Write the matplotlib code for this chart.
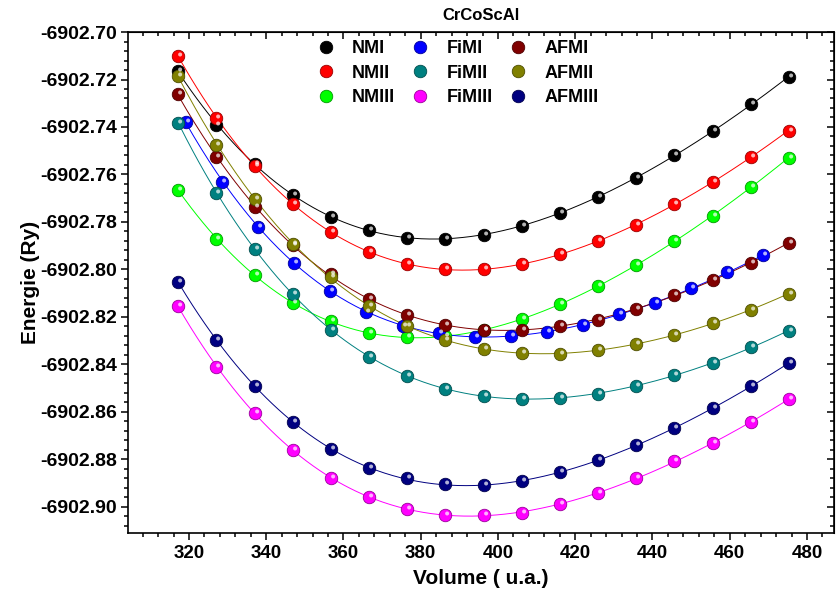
import numpy as np
import matplotlib
matplotlib.use("Agg")
import matplotlib.pyplot as plt
from matplotlib.markers import MarkerStyle
from matplotlib.transforms import Affine2D
from matplotlib.legend_handler import HandlerTuple
from matplotlib.ticker import MultipleLocator, FormatStrFormatter

plt.rcParams['font.family'] = ['Liberation Sans', 'DejaVu Sans']
plt.rcParams['font.weight'] = 'bold'
plt.rcParams['axes.unicode_minus'] = False

# --- Volumes (u.a.) ---
vol = [317.2, 327.1, 337.0, 346.9, 356.7, 366.6, 376.5, 386.4, 396.3,
       406.1, 416.0, 425.9, 435.8, 445.7, 455.6, 465.4, 475.3]
vol_fim1 = [319.2, 328.6, 337.9, 347.2, 356.6, 365.9, 375.3, 384.6, 394.0,
            403.3, 412.6, 422.0, 431.3, 440.7, 450.0, 459.4, 468.7]

# --- Energies (Ry) ---
e_nm1 = [-6902.7165, -6902.7392, -6902.7555, -6902.7687, -6902.7778, -6902.7832,
         -6902.7867, -6902.7871, -6902.7853, -6902.7818, -6902.7761, -6902.7696,
         -6902.7613, -6902.7520, -6902.7418, -6902.7305, -6902.7189]
e_nm2 = [-6902.7102, -6902.7361, -6902.7565, -6902.7726, -6902.7841, -6902.7926,
         -6902.7975, -6902.8000, -6902.8000, -6902.7979, -6902.7937, -6902.7880,
         -6902.7811, -6902.7726, -6902.7632, -6902.7526, -6902.7415]
e_nm3 = [-6902.7665, -6902.7871, -6902.8025, -6902.8142, -6902.8218, -6902.8267,
         -6902.8285, -6902.8282, -6902.8257, -6902.8208, -6902.8147, -6902.8070,
         -6902.7983, -6902.7881, -6902.7773, -6902.7653, -6902.7530]
e_fim1 = [-6902.7380, -6902.7631, -6902.7820, -6902.7972, -6902.8090, -6902.8178,
          -6902.8237, -6902.8267, -6902.8285, -6902.8281, -6902.8264, -6902.8232,
          -6902.8189, -6902.8140, -6902.8080, -6902.8011, -6902.7940]
e_fim2 = [-6902.7382, -6902.7677, -6902.7913, -6902.8105, -6902.8253, -6902.8368,
          -6902.8449, -6902.8502, -6902.8533, -6902.8544, -6902.8541, -6902.8523,
          -6902.8491, -6902.8446, -6902.8393, -6902.8328, -6902.8258]
e_fim3 = [-6902.8155, -6902.8410, -6902.8606, -6902.8762, -6902.8877, -6902.8958,
          -6902.9008, -6902.9033, -6902.9036, -6902.9024, -6902.8989, -6902.8943,
          -6902.8880, -6902.8808, -6902.8730, -6902.8643, -6902.8547]
e_afm1 = [-6902.7263, -6902.7527, -6902.7738, -6902.7899, -6902.8021, -6902.8123,
          -6902.8192, -6902.8235, -6902.8253, -6902.8257, -6902.8240, -6902.8211,
          -6902.8165, -6902.8109, -6902.8043, -6902.7972, -6902.7889]
e_afm2 = [-6902.7186, -6902.7474, -6902.7702, -6902.7891, -6902.8031, -6902.8155,
          -6902.8239, -6902.8299, -6902.8334, -6902.8351, -6902.8355, -6902.8341,
          -6902.8314, -6902.8276, -6902.8226, -6902.8170, -6902.8102]
e_afm3 = [-6902.8053, -6902.8298, -6902.8491, -6902.8643, -6902.8755, -6902.8835,
          -6902.8880, -6902.8905, -6902.8909, -6902.8893, -6902.8855, -6902.8804,
          -6902.8740, -6902.8667, -6902.8585, -6902.8491, -6902.8396]

labels = ['NMI', 'NMII', 'NMIII', 'FiMI', 'FiMII', 'FiMIII', 'AFMI', 'AFMII', 'AFMIII']
colors = ['#000000', '#ff0000', '#00ff00', '#0000ff', '#008080', '#ff00ff',
          '#800000', '#808000', '#000080']
volumes = [vol, vol, vol, vol_fim1, vol, vol, vol, vol, vol]
energies = [e_nm1, e_nm2, e_nm3, e_fim1, e_fim2, e_fim3, e_afm1, e_afm2, e_afm3]

fig = plt.figure(figsize=(8.36, 5.94), dpi=100)
ax = fig.add_axes([0.1531, 0.1027, 0.8445, 0.8434])

# reflet des billes
hl_marker = MarkerStyle('o', transform=Affine2D().scale(0.32).translate(0.13, 0.16))

handles = []
for v, e, c, lab in zip(volumes, energies, colors, labels):
    v = np.array(v)
    e = np.array(e)
    # courbe d'ajustement (polynôme) à travers les points
    v0 = v.mean()
    p = np.polyfit(v - v0, e + 6902.8, 4)
    vv = np.linspace(v.min(), v.max(), 300)
    ax.plot(vv, np.polyval(p, vv - v0) - 6902.8, color=c, lw=0.7, zorder=2)
    edge = matplotlib.colors.to_hex(np.array(matplotlib.colors.to_rgb(c)) * 0.6)
    base, = ax.plot(v, e, ls='none', marker='o', ms=9, mfc=c, mec=edge,
                    mew=0.6, zorder=3)
    hl, = ax.plot(v, e, ls='none', marker=hl_marker, ms=9, mfc='white', mec='none',
                  alpha=0.7, zorder=4)
    handles.append((base, hl))

ax.set_xlim(304.2, 487.0)
ax.set_ylim(-6902.911, -6902.70)
ax.xaxis.set_major_locator(MultipleLocator(20))
ax.xaxis.set_minor_locator(MultipleLocator(4))
ax.yaxis.set_major_locator(MultipleLocator(0.02))
ax.yaxis.set_minor_locator(MultipleLocator(0.004))
ax.yaxis.set_major_formatter(FormatStrFormatter('%.2f'))

for s in ax.spines.values():
    s.set_linewidth(1.2)
ax.tick_params(which='both', direction='out', width=1.1, top=False, right=False)
ax.tick_params(which='major', length=5)
ax.tick_params(which='minor', length=3)
ax.tick_params(axis='x', labelsize=13.5, pad=4)
ax.tick_params(axis='y', labelsize=14, pad=3)

# graduations intérieures en haut et à droite
sx = ax.secondary_xaxis('top')
sx.xaxis.set_major_locator(MultipleLocator(20))
sx.xaxis.set_minor_locator(MultipleLocator(4))
sx.tick_params(which='both', direction='in', width=1.1, labeltop=False)
sx.tick_params(which='major', length=5)
sx.tick_params(which='minor', length=3)
sy = ax.secondary_yaxis('right')
sy.yaxis.set_major_locator(MultipleLocator(0.02))
sy.yaxis.set_minor_locator(MultipleLocator(0.004))
sy.tick_params(which='both', direction='in', width=1.1, labelright=False)
sy.tick_params(which='major', length=5)
sy.tick_params(which='minor', length=3)

ax.set_xlabel('Volume ( u.a.)', fontsize=15, fontweight='bold', labelpad=5)
ax.set_ylabel('Energie (Ry)', fontsize=15, fontweight='bold', labelpad=0)
ax.set_title('CrCoScAl', fontsize=12, fontweight='bold', pad=9)

ax.legend(handles, labels, handler_map={tuple: HandlerTuple(ndivide=None)},
          ncol=3, frameon=False, loc='upper left',
          bbox_to_anchor=(321 / 836, 1 - 40 / 594), bbox_transform=fig.transFigure,
          borderpad=0, borderaxespad=0, handlelength=1.0, handletextpad=0.72,
          columnspacing=1.15, labelspacing=0.42, prop={'size': 13, 'weight': 'bold'})

fig.savefig('out.png', dpi=100)
